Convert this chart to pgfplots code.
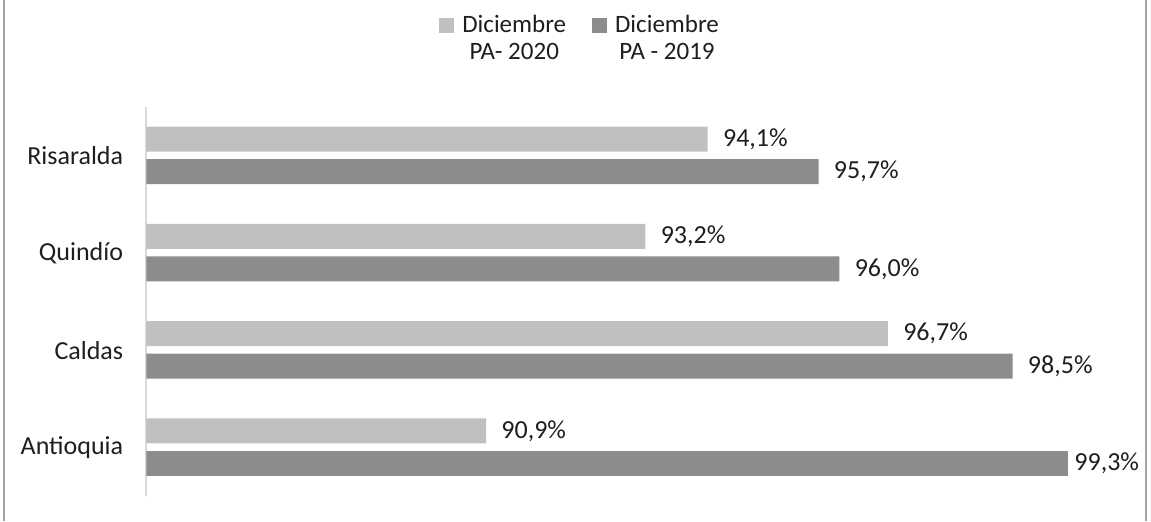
\documentclass[border=0pt]{standalone}
\usepackage{pgfplots}
\pgfplotsset{compat=1.18}
\usepackage{fontspec}
\setmainfont{Carlito}
\definecolor{light}{RGB}{192,192,192}
\definecolor{dark}{RGB}{140,140,140}
\definecolor{axisgray}{RGB}{217,217,217}
\definecolor{bordergray}{RGB}{165,165,165}
\definecolor{txt}{RGB}{30,30,30}
\begin{document}
\begin{tikzpicture}
\useasboundingbox (0,0) rectangle (575.5pt,260.5pt);
\draw[bordergray, line width=1pt] (2pt,0) -- (2pt,260.5pt);
\draw[bordergray, line width=1pt] (573pt,0) -- (573pt,260.5pt);
\begin{axis}[
  at={(73.25pt,12.5pt)}, anchor=south west,
  scale only axis, width=485pt, height=194.5pt,
  xmin=86, xmax=100, ymin=-0.5, ymax=3.5,
  hide x axis,
  axis y line*=left,
  y axis line style={axisgray, line width=1pt},
  ytick={0,1,2,3},
  yticklabels={Antioquia,Caldas,Quind\'{\i}o,Risaralda},
  major tick length=0pt,
  ytick style={draw=none},
  yticklabel style={inner sep=0pt, xshift=-11.5pt, font=\fontsize{13}{15}\selectfont, text=txt},
  point meta=x,
  nodes near coords={\pgfmathprintnumber[fixed,fixed zerofill,precision=1,use comma,assume math mode=true]{\pgfplotspointmeta}\%},
  nodes near coords style={anchor=west, inner sep=0pt, xshift=7.5pt, font=\fontsize{13}{15}\selectfont, text=txt},
  legend columns=2,
  legend style={draw=none, at={(0.446,1.2365)}, anchor=north, inner sep=0pt,
    font=\fontsize{12.5}{13.5}\selectfont, text=txt,
    nodes={align=center, inner sep=0pt},
    /tikz/every odd column/.append style={column sep=4pt},
    /tikz/every even column/.append style={column sep=13pt}},
  legend image code/.code={\fill[#1] (0pt,3pt) rectangle (7.5pt,10.5pt);},
]
\addplot[xbar, bar width=12.5pt, bar shift=0pt, fill=light, draw=none]
  coordinates {(90.9,0.17) (96.7,1.17) (93.2,2.17) (94.1,3.17)};
\addlegendentry{Diciembre\\PA- 2020}
\addplot[xbar, bar width=12.5pt, bar shift=0pt, fill=dark, draw=none]
  coordinates {(98.5,0.835) (96.0,1.835) (95.7,2.835)};
\addlegendentry{Diciembre\\PA - 2019}
\addplot[xbar, bar width=12.5pt, bar shift=0pt, fill=dark, draw=none, forget plot,
  nodes near coords style={xshift=-4.5pt}]
  coordinates {(99.3,-0.165)};
\end{axis}
\end{tikzpicture}
\end{document}
